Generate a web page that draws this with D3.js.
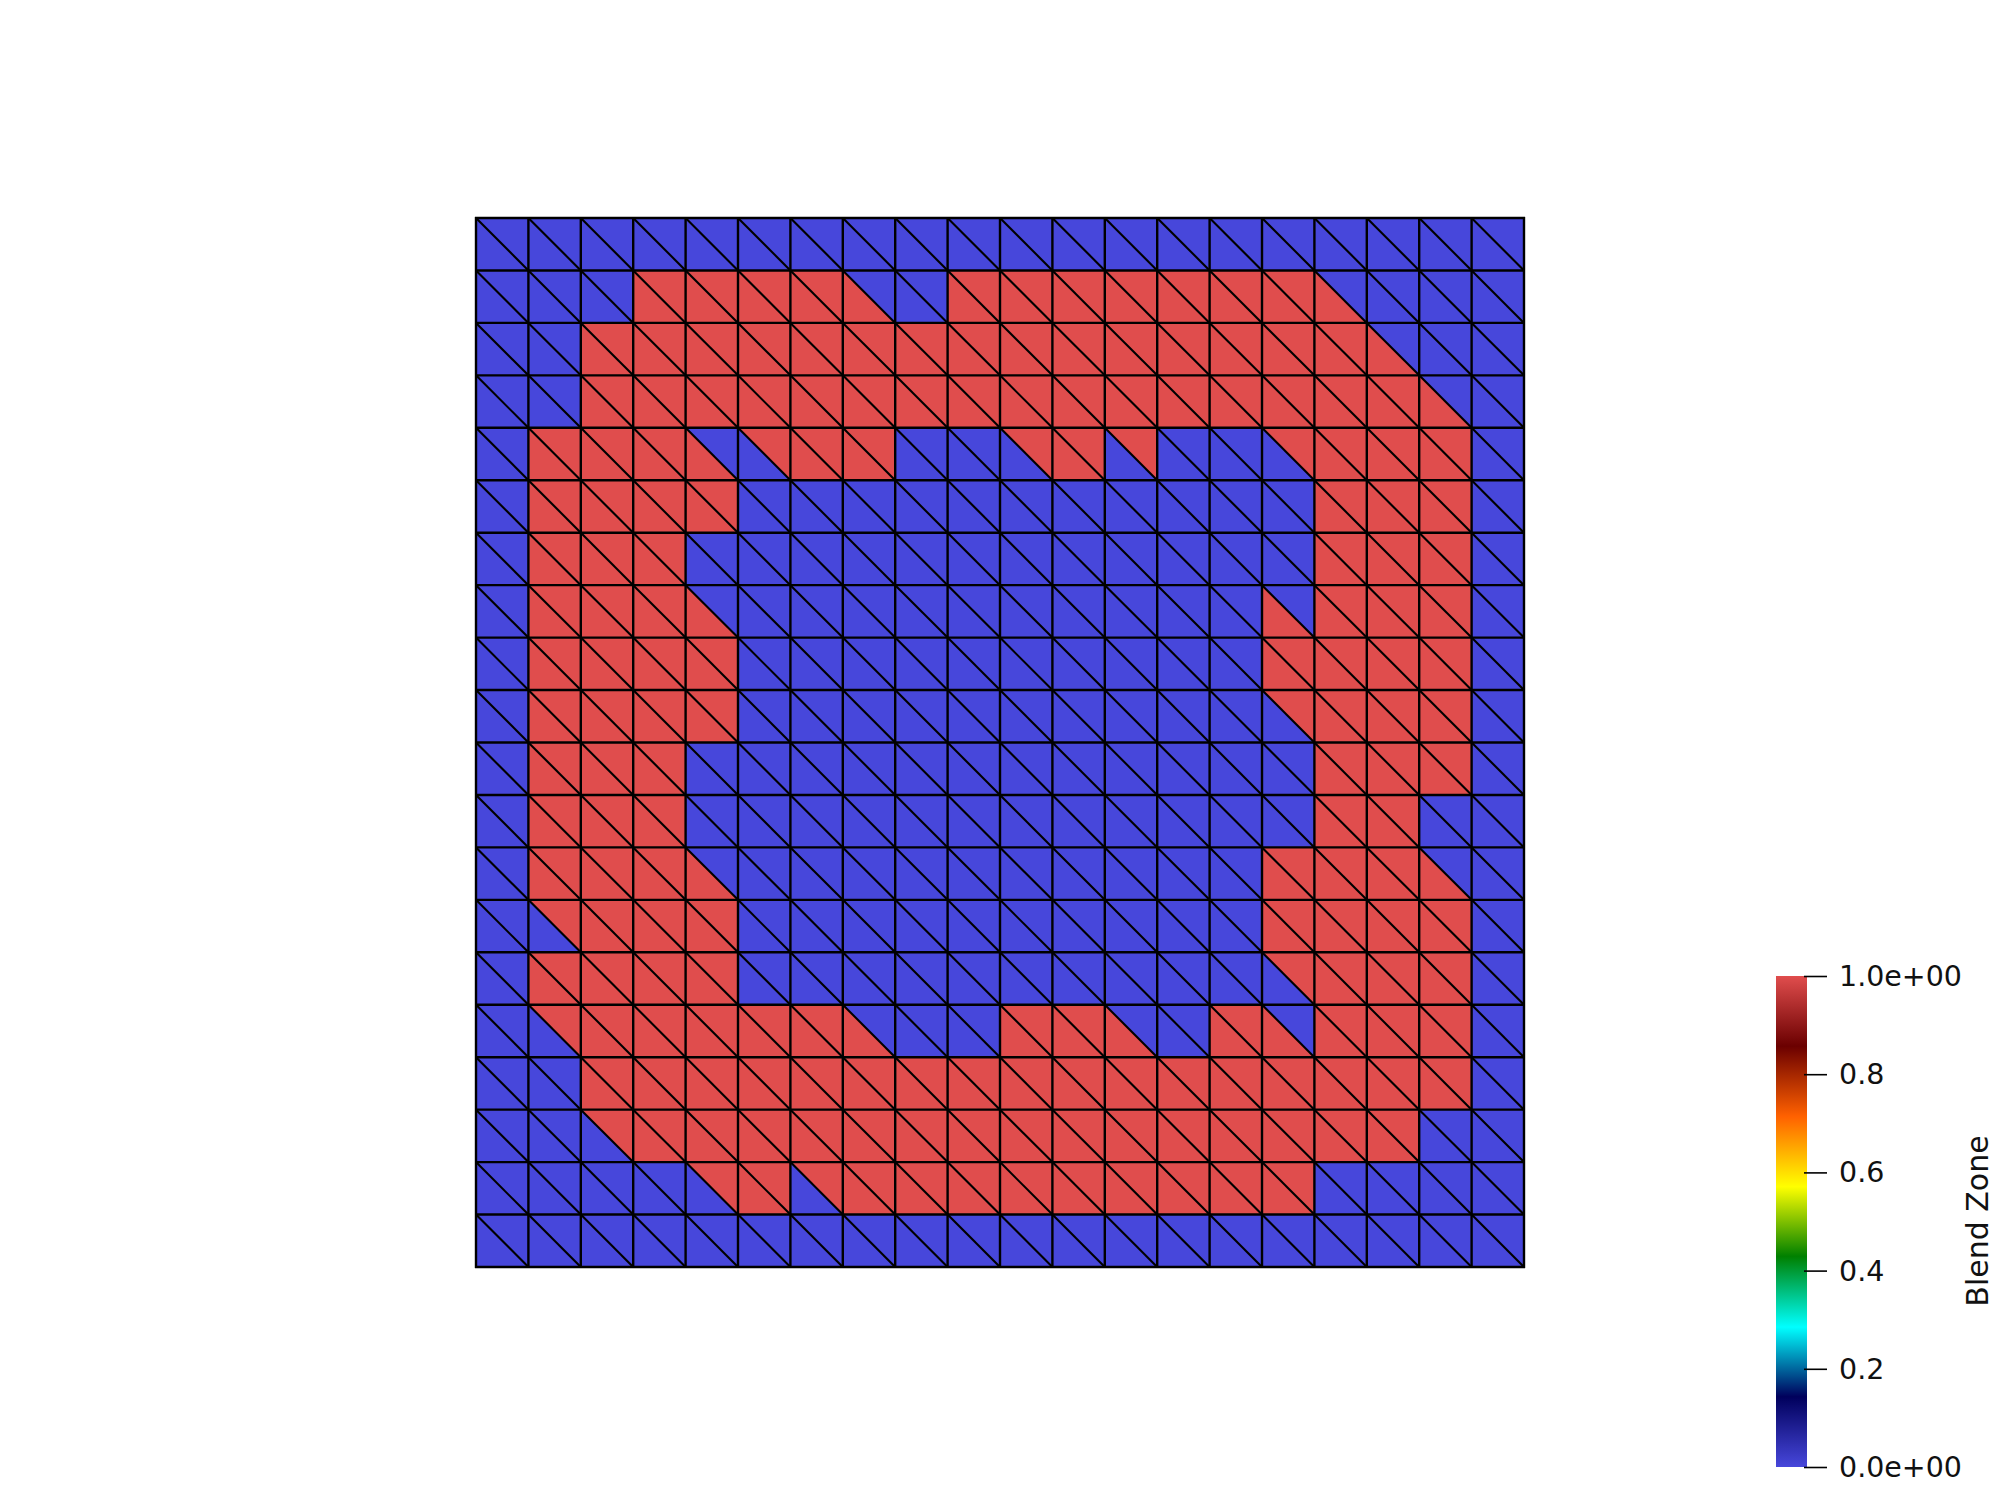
<!DOCTYPE html>
<html>
<head>
<meta charset="utf-8">
<script src="https://cdn.jsdelivr.net/npm/d3@7"></script>
<style>
  html, body { margin: 0; padding: 0; background: #ffffff; }
  svg { display: block; }
</style>
</head>
<body>
<svg id="chart" width="2000" height="1486"></svg>
<script>
// ---- DATA ----
// "Blend Zone" value of each triangle. Each grid cell (20 x 20) is split by the
// diagonal from its top-left to its bottom-right corner.
// upperTri: triangle above the diagonal (touching top & right edges)
// lowerTri: triangle below the diagonal (touching left & bottom edges)
const upperTri = [
  "00000000000000000000",
  "00011110011111110000",
  "00111111111111111000",
  "00111111111111111100",
  "01110111001110011110",
  "01111000000000001110",
  "01110000000000001110",
  "01110000000000001110",
  "01111000000000011110",
  "01111000000000011110",
  "01110000000000001110",
  "01110000000000001100",
  "01110000000000011100",
  "01111000000000011110",
  "01111000000000011110",
  "01111110001100101110",
  "00111111111111111110",
  "00111111111111111100",
  "00001111111111110000",
  "00000000000000000000"
];
const lowerTri = [
  "00000000000000000000",
  "00011111011111111000",
  "00111111111111111100",
  "00111111111111111110",
  "01111011000100001110",
  "01111000000000001110",
  "01110000000000001110",
  "01111000000000011110",
  "01111000000000011110",
  "01111000000000001110",
  "01110000000000001110",
  "01110000000000001100",
  "01111000000000011110",
  "00111000000000011110",
  "01111000000000001110",
  "00111111001110111110",
  "00111111111111111110",
  "00011111111111111100",
  "00000101111111110000",
  "00000000000000000000"
];
// Colour map (ParaView "Rainbow Desaturated")
const cmapStops = [0, 0.143, 0.285, 0.429, 0.571, 0.714, 0.857, 1];
const cmapColors = ["#4747db", "#00005c", "#00ffff", "#008000", "#ffff00", "#ff6100", "#6b0000", "#e04d4d"];
const tickValues = [0, 0.2, 0.4, 0.6, 0.8, 1];
const tickLabels = ["0.0e+00", "0.2", "0.4", "0.6", "0.8", "1.0e+00"];
const barTitle = "Blend Zone";

// ---- DRAW ----
const svg = d3.select("#chart");
svg.append("rect").attr("width", 2000).attr("height", 1486).attr("fill", "#ffffff");

const nCols = upperTri[0].length, nRows = upperTri.length;
const x = d3.scaleLinear().domain([0, nCols]).range([476, 1524]);
const y = d3.scaleLinear().domain([0, nRows]).range([218, 1267]);
const color = d3.scaleLinear().domain(cmapStops).range(cmapColors).interpolate(d3.interpolateRgb);

const tris = [];
for (let r = 0; r < nRows; r++) {
  for (let c = 0; c < nCols; c++) {
    tris.push({ r, c, part: "upper", v: +upperTri[r][c] });
    tris.push({ r, c, part: "lower", v: +lowerTri[r][c] });
  }
}
function triPath(d) {
  const x0 = x(d.c), x1 = x(d.c + 1), y0 = y(d.r), y1 = y(d.r + 1);
  if (d.part === "upper") return `M${x0},${y0}L${x1},${y0}L${x1},${y1}Z`;
  return `M${x0},${y0}L${x1},${y1}L${x0},${y1}Z`;
}
const mesh = svg.append("g");
mesh.selectAll("path.tri").data(tris).join("path")
  .attr("class", "tri")
  .attr("d", triPath)
  .attr("fill", d => color(d.v))
  .attr("stroke", d => color(d.v))
  .attr("stroke-width", 0.6);

// edges
const edges = svg.append("g").attr("stroke", "#000").attr("stroke-width", 2.4).attr("fill", "none");
edges.selectAll("line.h").data(d3.range(nRows + 1)).join("line")
  .attr("x1", x(0) - 1).attr("x2", x(nCols) + 1).attr("y1", d => y(d)).attr("y2", d => y(d));
edges.selectAll("line.v").data(d3.range(nCols + 1)).join("line")
  .attr("class", "v")
  .attr("y1", y(0) - 1).attr("y2", y(nRows) + 1).attr("x1", d => x(d)).attr("x2", d => x(d));
edges.selectAll("line.d").data(tris.filter(t => t.part === "upper")).join("line")
  .attr("class", "d")
  .attr("x1", d => x(d.c)).attr("y1", d => y(d.r))
  .attr("x2", d => x(d.c + 1)).attr("y2", d => y(d.r + 1))
  .attr("stroke-width", 2.1);

// ---- COLOUR BAR ----
const barX = 1776, barW = 31;
const by = d3.scaleLinear().domain([0, 1]).range([1467, 976]);
const defs = svg.append("defs");
const grad = defs.append("linearGradient").attr("id", "cbar")
  .attr("x1", "0").attr("y1", "1").attr("x2", "0").attr("y2", "0");
grad.selectAll("stop").data(cmapStops).join("stop")
  .attr("offset", d => d)
  .attr("stop-color", d => color(d));
svg.append("rect")
  .attr("x", barX).attr("y", by(1)).attr("width", barW).attr("height", by(0) - by(1))
  .attr("fill", "url(#cbar)");

const axis = d3.axisRight(by)
  .tickValues(tickValues)
  .tickSize(23)
  .tickPadding(12)
  .tickFormat((d, i) => tickLabels[i]);
const ax = svg.append("g").attr("transform", `translate(${barX + 28},0)`).call(axis);
ax.select(".domain").remove();
ax.selectAll(".tick line").attr("stroke", "#000").attr("stroke-width", 1.6);
ax.selectAll(".tick text")
  .attr("fill", "#111")
  .attr("font-family", "'DejaVu Sans', sans-serif")
  .attr("font-size", 28.5)
  .attr("dy", "0.33em");

svg.append("text")
  .attr("transform", `translate(1988,1221) rotate(-90)`)
  .attr("text-anchor", "middle")
  .attr("font-family", "'DejaVu Sans', sans-serif")
  .attr("font-size", 30)
  .attr("fill", "#111")
  .text(barTitle);
</script>
</body>
</html>
